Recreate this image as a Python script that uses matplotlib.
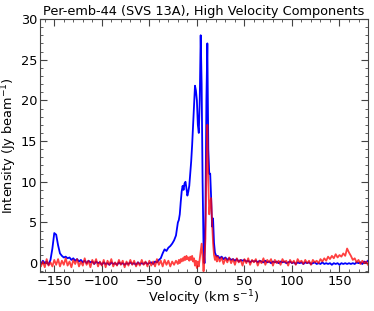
import numpy as np
import matplotlib
matplotlib.use("Agg")
import matplotlib.pyplot as plt
from matplotlib.ticker import AutoMinorLocator

# velocity grid (km/s): coarse wings, finer core
vel = np.concatenate([np.arange(-166, -21, 2), np.arange(-20, 22, 1), np.arange(22, 181, 2)])

# blue (approaching) high-velocity spectrum
blue_wing_lo = [
    0.2, -0.1, 0.3, 0.0, 0.2, -0.2, 0.4, 1.8, 3.7, 3.5,
    2.2, 1.2, 0.9, 0.7, 0.8, 0.6, 0.7, 0.4, 0.6, 0.3,
    0.5, 0.2, 0.4, 0.1, 0.3, 0.0, 0.3, 0.1, 0.2, -0.1,
    0.2, 0.0, 0.1, -0.2, 0.1, -0.1, 0.0, -0.2, 0.1, -0.1,
    0.0, -0.2, 0.1, -0.1, 0.0, -0.2, 0.0, -0.1, 0.1, -0.1,
    0.0, -0.2, 0.1, -0.1, 0.0, -0.1, 0.1, -0.1, 0.0, 0.1,
    -0.1, 0.2, 0.1, 0.4, 0.6, 1.2, 1.7, 1.5, 1.9, 2.1,
    2.4, 2.8, 3.4,
]
blue_core = [
    5.0, 5.3, 6.0, 7.5, 8.8, 9.5, 9.0, 9.8, 10.0, 9.2,
    8.3, 8.8, 9.5, 11.0, 12.5, 14.5, 17.0, 19.5, 21.8, 21.2,
    20.0, 17.0, 16.0, 20.0, 28.0, 22.0, 10.0, 2.0, 0.0, 6.0,
    20.0, 27.0, 14.0, 11.0, 11.0, 8.0, 4.5, 5.5, 2.5, 1.3,
    1.0, 0.8,
]
blue_wing_hi = [
    0.9, 0.6, 0.8, 0.5, 0.7, 0.4, 0.6, 0.4, 0.5, 0.3,
    0.5, 0.2, 0.4, 0.3, 0.4, 0.2, 0.3, 0.1, 0.3, 0.2,
    0.3, 0.1, 0.3, 0.2, 0.1, 0.3, 0.1, 0.2, 0.0, 0.2,
    0.1, 0.2, 0.0, 0.2, 0.1, 0.2, 0.0, 0.1, 0.2, 0.0,
    0.1, -0.1, 0.1, 0.0, 0.1, -0.1, 0.1, 0.0, 0.1, -0.1,
    0.0, 0.1, -0.1, 0.0, -0.1, 0.1, -0.1, 0.0, -0.1, 0.0,
    -0.2, 0.0, -0.1, 0.0, -0.2, 0.0, -0.1, 0.0, -0.1, 0.0,
    -0.1, 0.0, -0.1, 0.1, 0.0, 0.1, -0.1, 0.2, 0.1, 0.3,
]

# red (receding) high-velocity spectrum
red_wing_lo = [
    0.3, -0.4, 0.2, -0.5, 0.5, -0.3, 0.1, -0.4, 0.4, -0.2,
    0.5, -0.4, 0.3, -0.2, 0.6, -0.3, 0.2, -0.5, 0.4, -0.1,
    0.5, -0.4, 0.2, -0.3, 0.6, -0.2, 0.3, -0.5, 0.4, -0.1,
    0.5, -0.4, 0.2, -0.3, 0.4, -0.5, 0.3, -0.2, 0.5, -0.4,
    0.1, -0.3, 0.4, -0.2, 0.3, -0.5, 0.2, -0.3, 0.4, -0.2,
    0.3, -0.4, 0.1, -0.3, 0.4, -0.2, 0.2, -0.4, 0.3, -0.3,
    0.2, -0.4, 0.5, -0.2, 0.3, -0.4, 0.4, -0.2, 0.3, -0.4,
    0.2, -0.2, 0.3,
]
red_core = [
    -0.1, 0.4, 0.0, 0.5, 0.2, 0.6, 0.3, 0.8, 0.4, 0.9,
    0.5, 0.7, 0.3, 0.8, 0.4, 0.9, 0.2, 0.6, -0.3, 0.3,
    -0.6, 0.2, -0.4, 0.5, 1.5, 2.4, 0.8, -1.0, 0.5, 3.0,
    12.0, 17.0, 10.0, 6.0, 7.5, 8.0, 5.0, 2.5, 1.0, 0.4,
    0.9, 0.2,
]
red_wing_hi = [
    0.8, 0.2, 0.7, -0.1, 0.6, 0.1, 0.7, 0.0, 0.5, -0.2,
    0.6, 0.1, 0.4, -0.3, 0.5, 0.0, 0.6, -0.2, 0.4, 0.1,
    0.5, -0.3, 0.3, 0.0, 0.6, -0.2, 0.4, 0.1, 0.5, -0.3,
    0.4, 0.0, 0.3, -0.2, 0.5, 0.1, 0.3, -0.3, 0.4, 0.0,
    0.3, -0.2, 0.5, 0.1, 0.3, -0.1, 0.4, 0.0, 0.3, -0.2,
    0.4, 0.1, 0.3, 0.0, 0.5, 0.2, 0.6, 0.3, 0.8, 0.5,
    0.9, 0.6, 1.1, 0.7, 1.0, 0.8, 1.2, 0.9, 1.8, 1.3,
    0.9, 0.4, 0.6, 0.1, 0.4, -0.1, 0.3, 0.0, 0.2, -0.2,
]

blue = np.array(blue_wing_lo + blue_core + blue_wing_hi)
red = np.array(red_wing_lo + red_core + red_wing_hi)

fig = plt.figure(figsize=(3.74, 3.11), dpi=100)
ax = fig.add_axes([0.107, 0.125, 0.877, 0.814])

ax.plot(vel, blue, color="blue", linewidth=1.3)
ax.plot(vel, red, color="red", linewidth=1.3, alpha=0.75)

ax.set_xlim(-165, 180)
ax.set_ylim(-1.1, 30)
ax.set_xlabel("Velocity (km s$^{-1}$)", fontsize=9.3, labelpad=0)
ax.set_ylabel("Intensity (Jy beam$^{-1}$)", fontsize=9.3, labelpad=1)
ax.set_title("Per-emb-44 (SVS 13A), High Velocity Components", fontsize=9.3, pad=3)

for side in ax.spines.values():
    side.set_color("#444444")
ax.xaxis.set_minor_locator(AutoMinorLocator(5))
ax.yaxis.set_minor_locator(AutoMinorLocator(5))
ax.tick_params(which="both", direction="in", top=True, right=True, labelsize=9.3,
               color="#444444", pad=2)
ax.tick_params(which="major", length=5)
ax.tick_params(which="minor", length=2.5)

fig.savefig("out.png", dpi=100)
